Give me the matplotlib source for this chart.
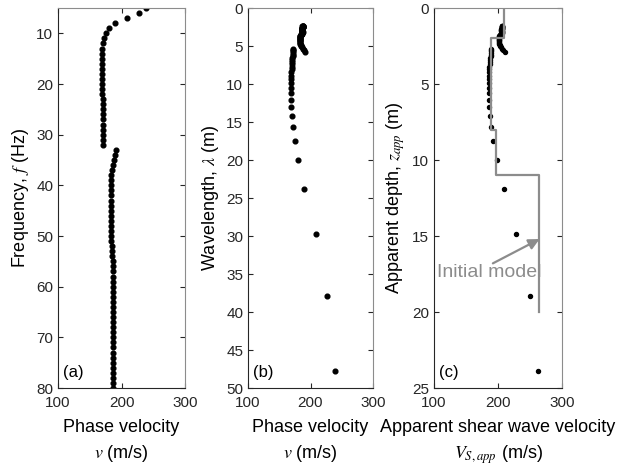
import numpy as np
import matplotlib
matplotlib.use("Agg")
import matplotlib.pyplot as plt

plt.rcParams['font.family'] = ['Liberation Sans', 'DejaVu Sans']
plt.rcParams['mathtext.fontset'] = 'stix'

# dispersion curve: frequency (Hz) and phase velocity (m/s)
frequency = np.arange(5, 81)
phase_velocity = np.array([
    239, 227, 208, 190, 180, 175, 172.4, 170.3, 169.3, 168.8,   # 5-14
    168.6, 168.6, 168.8, 168.8, 169.2, 169.2, 169.7, 169.7, 170.2, 170.2,  # 15-24
    170.7, 170.7, 171.3, 171.6, 171.4, 171.4, 171.2, 171.2,   # 25-32
    191.3, 189.2, 187.7, 186.1, 185.0, 184.0, 183.5, 183.0,   # 33-40
    182.9, 182.9, 182.9, 182.9, 183.0, 183.2, 183.2, 183.5, 183.5, 183.8,  # 41-50
    184.2, 184.6, 185.0, 185.5, 186.0, 186.4, 186.8, 187.0, 187.0, 187.2,  # 51-60
    187.0, 186.8, 186.6, 186.6, 186.6, 186.6, 186.8, 186.8, 187.0, 187.0,  # 61-70
    187.0, 187.0, 187.2, 187.2, 187.2, 187.2, 187.2, 187.2, 187.2, 187.1,  # 71-80
])

# wavelength = v / f, apparent depth = lambda / 2, Vs,app = 1.1 v
wavelength = phase_velocity / frequency
depth_factor = 0.5
vs_factor = 1.1
apparent_depth = wavelength * depth_factor
apparent_vs = phase_velocity * vs_factor

# initial layered model
model_vs = [209, 189, 197, 264]
model_top = [0, 2, 8, 11]
model_bottom = [2, 8, 11, 20]

fig = plt.figure(figsize=(6.34, 4.66), dpi=100)
H = 466
W = 634
bot = 1 - 388 / H
hgt = 380 / H
ax_a = fig.add_axes([58 / W, bot, 127 / W, hgt])
ax_b = fig.add_axes([248 / W, bot, 125 / W, hgt])
ax_c = fig.add_axes([434 / W, bot, 128 / W, hgt])

dark = '#262626'
light = '#8c8c8c'
tick_fs = 11
label_fs = 13

def style(ax):
    ax.tick_params(direction='in', length=3.5, width=0.8, top=True, right=True,
                   labelsize=tick_fs, colors=dark)
    ax.tick_params(axis='x', pad=6)
    for s in ['left', 'bottom']:
        ax.spines[s].set_color(dark)
    for s in ['top', 'right']:
        ax.spines[s].set_color(light)
    for s in ax.spines.values():
        s.set_linewidth(0.8)
    ax.set_xlim(100, 300)
    ax.set_xticks([100, 200, 300])

ms = 3.4
ax_a.plot(phase_velocity, frequency, 'o', color='black', markersize=ms)
style(ax_a)
ax_a.set_ylim(80, 5)
ax_a.set_yticks(range(10, 81, 10))
ax_a.set_xlabel("Phase velocity\n$v$ (m/s)", fontsize=label_fs, linespacing=1.5,
                labelpad=6)
ax_a.set_ylabel("Frequency, $f$ (Hz)", fontsize=label_fs)
ax_a.text(0.04, 0.03, "(a)", transform=ax_a.transAxes, fontsize=12)

ax_b.plot(phase_velocity, wavelength, 'o', color='black', markersize=ms)
style(ax_b)
ax_b.set_ylim(50, 0)
ax_b.set_yticks(range(0, 51, 5))
ax_b.set_xlabel("Phase velocity\n$v$ (m/s)", fontsize=label_fs, linespacing=1.5,
                labelpad=6)
ax_b.set_ylabel("Wavelength, $\\lambda$ (m)", fontsize=label_fs)
ax_b.text(0.04, 0.03, "(b)", transform=ax_b.transAxes, fontsize=12)

ax_c.plot(apparent_vs, apparent_depth, 'o', color='black', markersize=ms * 0.85)
xs, zs = [], []
for v, zt, zb in zip(model_vs, model_top, model_bottom):
    xs += [v, v]
    zs += [zt, zb]
ax_c.plot(xs, zs, color=light, lw=1.6)
ax_c.annotate('', xy=(265, 15.2), xytext=(192, 16.8),
              arrowprops=dict(arrowstyle='-|>', color=light, lw=1.6,
                              mutation_scale=16, shrinkA=0, shrinkB=0))
ax_c.text(186, 17.4, "Initial model", color=light, fontsize=14,
          ha='center', va='center')
style(ax_c)
ax_c.set_ylim(25, 0)
ax_c.set_yticks(range(0, 26, 5))
ax_c.set_xlabel("Apparent shear wave velocity\n$V_{S,app}$ (m/s)", fontsize=label_fs,
                linespacing=1.5, labelpad=6)
ax_c.set_ylabel("Apparent depth, $z_{app}$ (m)", fontsize=label_fs)
ax_c.text(0.04, 0.03, "(c)", transform=ax_c.transAxes, fontsize=12)

fig.savefig("out.png", dpi=100)
